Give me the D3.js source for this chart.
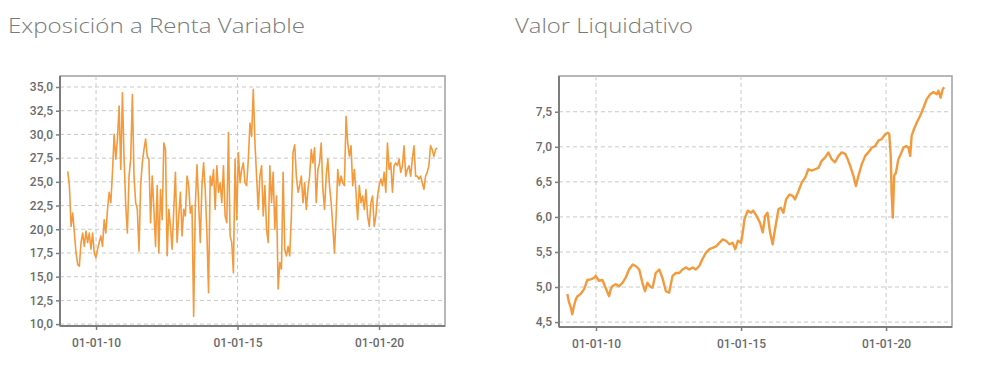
<!DOCTYPE html>
<meta charset="utf-8">

<!-- Load d3.js -->
<script src="https://d3js.org/d3.v7.min.js"></script>

<style>
  body { margin: 0; background: #fff; }
  .titulo { font-family: "Open Sans", sans-serif; font-weight: 300; fill: #7a7a7a; font-size: 21px; }
  .axis text { font-family: Roboto, sans-serif; font-weight: 500; fill: #6a6a6a; font-size: 12px; }
  .grid line { stroke: #c9c9c9; stroke-dasharray: 4,3; }
</style>

<div id="my_dataviz"></div>

<script>
// ---- datos: exposicion a renta variable (%), puntos equiespaciados entre dos fechas
var expInicio = "2009-01-01", expFin = "2022-01-20"
var expValores = [
  26.1, 24.6, 20.3, 21.7, 19.6, 17.5, 16.3, 16.1, 18.6, 19.6, 18.2, 19.8, 18.6, 19.6, 17.9, 19.6, 17.5, 17.0, 17.9, 18.6,
  19.3, 18.2, 21.0, 19.6, 22.1, 23.9, 22.8, 26.0, 30.0, 27.4, 29.5, 33.0, 26.3, 34.4, 27.4, 22.5, 19.6, 25.6, 27.4, 34.2,
  25.6, 22.8, 22.1, 17.7, 24.6, 27.0, 28.4, 29.5, 27.7, 27.4, 20.7, 25.6, 22.1, 18.2, 24.6, 17.5, 24.2,
  21.0, 29.1, 28.4, 17.2, 22.1, 20.3, 17.9, 22.1, 26.0, 18.6, 21.4, 23.9, 19.3, 22.1, 21.4, 25.6, 24.6, 21.7, 22.5, 10.8,
  22.5, 26.8, 22.8, 18.6, 24.6, 27.0, 24.2, 19.6, 13.3, 25.6, 24.6, 26.3, 22.1, 26.7, 23.9, 24.9, 22.8, 26.7, 21.4, 20.7,
  30.2, 19.3, 18.6, 15.4, 27.4, 21.0, 28.1, 24.9, 26.3, 27.0, 24.9, 24.6, 27.4, 31.2, 29.8, 34.75, 29.1,
  25.6, 22.1, 25.6, 26.7, 21.4, 24.6, 20.0, 18.6, 26.7, 22.8, 26.0, 20.0, 23.5, 13.7, 16.5, 15.8, 26.0, 17.9, 17.2, 18.2,
  17.2, 21.4, 28.1, 28.9, 25.6, 23.9, 24.6, 25.6, 22.8, 24.9, 22.1, 24.2, 25.6, 28.4, 27.0, 28.6, 22.8, 26.3, 27.0, 29.1,
  24.2, 22.1, 25.6, 27.4, 24.6, 22.8, 20.3, 17.5, 21.4, 26.3, 24.6, 25.6, 24.9, 24.6, 31.9, 29.1, 27.7,
  28.8, 24.6, 26.3, 23.9, 21.0, 24.6, 22.8, 23.5, 22.1, 24.2, 21.4, 20.3, 22.8, 23.5, 20.3, 21.4, 23.5, 24.6, 25.3, 24.6,
  26.0, 23.9, 29.1, 26.3, 27.0, 23.9, 26.7, 27.0, 26.7, 27.4, 26.0, 26.7, 28.8, 25.6, 26.3, 26.7, 25.6, 27.4, 28.8, 25.6,
  25.6, 25.3, 25.6, 24.9, 24.2, 25.6, 26.0, 26.7, 28.8, 28.4, 27.7, 28.4, 28.6
]

// ---- datos: valor liquidativo (fecha en anos decimales)
var vlAnios = [
  2009.01, 2009.07, 2009.13, 2009.18, 2009.24, 2009.30, 2009.36, 2009.47, 2009.59, 2009.70, 2009.82, 2009.93, 2009.99,
  2010.10, 2010.22, 2010.33, 2010.45, 2010.51, 2010.56, 2010.68, 2010.79, 2010.91,
  2011.02, 2011.14, 2011.26, 2011.37, 2011.49, 2011.60, 2011.69, 2011.77, 2011.86, 2011.95,
  2012.06, 2012.18, 2012.29, 2012.41, 2012.52, 2012.64, 2012.75, 2012.87, 2012.98,
  2013.10, 2013.21, 2013.33, 2013.44, 2013.56, 2013.67, 2013.79, 2013.91,
  2014.02, 2014.14, 2014.25, 2014.37, 2014.48, 2014.60, 2014.71, 2014.80, 2014.89,
  2015.00, 2015.06, 2015.12, 2015.23, 2015.35, 2015.42, 2015.54, 2015.65, 2015.75, 2015.83, 2015.91,
  2016.00, 2016.09, 2016.17, 2016.29, 2016.37, 2016.46, 2016.55, 2016.67, 2016.78, 2016.86, 2016.98,
  2017.09, 2017.21, 2017.32, 2017.44, 2017.55, 2017.67, 2017.78, 2017.90,
  2018.01, 2018.13, 2018.24, 2018.36, 2018.47, 2018.59, 2018.68, 2018.76, 2018.87, 2018.96,
  2019.05, 2019.16, 2019.28, 2019.39, 2019.51, 2019.62, 2019.74, 2019.85, 2019.97,
  2020.06, 2020.11, 2020.16, 2020.19, 2020.23, 2020.28, 2020.34, 2020.42, 2020.51, 2020.60, 2020.69, 2020.77, 2020.83, 2020.88, 2020.96,
  2021.06, 2021.17, 2021.29, 2021.40, 2021.52, 2021.63, 2021.75, 2021.80, 2021.88, 2021.95, 2022.00
]
var vlValores = [
  4.90, 4.78, 4.71, 4.61, 4.73, 4.82, 4.87, 4.90, 4.97, 5.10, 5.11, 5.13, 5.16,
  5.09, 5.10, 4.99, 4.87, 4.97, 5.01, 5.04, 5.01, 5.06,
  5.13, 5.25, 5.32, 5.30, 5.25, 5.06, 4.94, 5.06, 5.01, 4.99,
  5.20, 5.25, 5.13, 4.94, 4.92, 5.16, 5.20, 5.20, 5.25,
  5.28, 5.25, 5.28, 5.25, 5.30, 5.40, 5.49, 5.54,
  5.56, 5.58, 5.63, 5.68, 5.66, 5.61, 5.63, 5.54, 5.66,
  5.63, 5.78, 5.97, 6.09, 6.06, 6.09, 6.01, 5.92, 5.78, 6.01, 6.06,
  5.78, 5.61, 5.82, 6.11, 6.13, 6.06, 6.25, 6.32, 6.30, 6.25, 6.37,
  6.49, 6.56, 6.68, 6.66, 6.68, 6.70, 6.80, 6.85,
  6.92, 6.82, 6.78, 6.87, 6.92, 6.90, 6.82, 6.73, 6.59, 6.44,
  6.59, 6.75, 6.87, 6.92, 6.99, 7.01, 7.09, 7.11, 7.18,
  7.20, 7.18, 6.87, 6.35, 5.99, 6.59, 6.63, 6.82, 6.90, 6.99, 7.01, 6.99, 6.87, 7.16, 7.25,
  7.35, 7.44, 7.56, 7.68, 7.75, 7.78, 7.75, 7.80, 7.70, 7.82, 7.85
]

var expTicksY = [10, 12.5, 15, 17.5, 20, 22.5, 25, 27.5, 30, 32.5, 35]
var vlTicksY = [4.5, 5, 5.5, 6, 6.5, 7, 7.5]
var ticksX = ["2010-01-01", "2015-01-01", "2020-01-01"]

var naranja = "#f39a3d"

// ---- helpers
var parse = d3.timeParse("%Y-%m-%d")
function anioAFecha(a) {
  var y = Math.floor(a)
  var t0 = new Date(y, 0, 1), t1 = new Date(y + 1, 0, 1)
  return new Date(+t0 + (a - y) * (t1 - t0))
}
var es = d3.formatLocale({decimal: ",", thousands: ".", grouping: [3], currency: ["", " €"]})
var fmtNum = es.format(".1f")
var fmtFecha = d3.timeFormat("%d-%m-%y")

const svg = d3.select("#my_dataviz")
  .append("svg")
    .attr("width", 991)
    .attr("height", 377)

// datos en forma de tabla (interpolateDate reutiliza el objeto, por eso new Date)
var expT = d3.scaleLinear().domain([0, expValores.length - 1]).range([+parse(expInicio), +parse(expFin)])
var expData = expValores.map((v, i) => ({fecha: new Date(expT(i)), valor: v}))
var vlData = vlValores.map((v, i) => ({fecha: anioAFecha(vlAnios[i]), valor: v}))

function dibujar(cfg) {
  var x = d3.scaleTime().domain(cfg.xDom).range([cfg.left, cfg.right])
  var y = d3.scaleLinear().domain(cfg.yDom).range([cfg.bottom, cfg.top])
  var g = svg.append("g")

  g.append("text").attr("class", "titulo")
    .attr("x", cfg.tx).attr("y", 33)
    .attr("textLength", cfg.tw).attr("lengthAdjust", "spacingAndGlyphs")
    .text(cfg.titulo)

  g.append("rect")
    .attr("x", cfg.left).attr("y", cfg.top)
    .attr("width", cfg.right - cfg.left).attr("height", cfg.bottom - cfg.top)
    .attr("fill", "#fff").attr("stroke", "#a0a0a0").attr("stroke-width", 1.5)

  // rejilla
  var grid = g.append("g").attr("class", "grid")
  grid.selectAll("line.h").data(cfg.ticksY).join("line")
    .attr("x1", cfg.left).attr("x2", cfg.right)
    .attr("y1", d => y(d)).attr("y2", d => y(d))
  grid.selectAll("line.v").data(ticksX.map(parse)).join("line")
    .attr("x1", d => x(d)).attr("x2", d => x(d))
    .attr("y1", cfg.top).attr("y2", cfg.bottom)

  // linea
  g.append("path")
    .datum(cfg.data)
    .attr("fill", "none")
    .attr("stroke", naranja)
    .attr("stroke-width", cfg.lw)
    .attr("stroke-linejoin", "round")
    .attr("d", d3.line().x(d => x(d.fecha)).y(d => y(d.valor)))

  // ejes
  var ax = g.append("g").attr("class", "axis")
    .attr("transform", `translate(0,${cfg.bottom})`)
    .call(d3.axisBottom(x).tickValues(ticksX.map(parse)).tickFormat(fmtFecha).tickSize(4).tickPadding(8))
  var ay = g.append("g").attr("class", "axis")
    .attr("transform", `translate(${cfg.left},0)`)
    .call(d3.axisLeft(y).tickValues(cfg.ticksY).tickFormat(fmtNum).tickSize(4).tickPadding(3))
  ;[ax, ay].forEach(a => {
    a.select(".domain").attr("stroke", "#7d7d7d").attr("stroke-width", 2)
    a.selectAll(".tick line").attr("stroke", "#7d7d7d").attr("stroke-width", 1.5)
  })
  ax.select(".domain").attr("d", `M${cfg.left},0H${cfg.right}`)
  ay.select(".domain").attr("d", `M0,${cfg.top}V${cfg.bottom}`)
}

dibujar({
  titulo: "Exposición a Renta Variable", tx: 8, tw: 297,
  left: 60, right: 445, top: 76, bottom: 326,
  xDom: [parse("2008-09-23"), parse("2022-05-01")], yDom: [9.8, 36.16],
  ticksY: expTicksY, data: expData, lw: 1.6
})

dibujar({
  titulo: "Valor Liquidativo", tx: 515, tw: 178,
  left: 559, right: 952, top: 76, bottom: 327,
  xDom: [parse("2008-09-22"), parse("2022-04-10")], yDom: [4.43, 8.01],
  ticksY: vlTicksY, data: vlData, lw: 2.4
})
</script>
